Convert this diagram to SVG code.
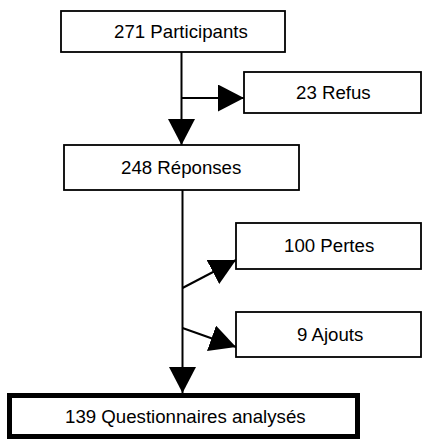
<svg xmlns="http://www.w3.org/2000/svg" width="423" height="440" viewBox="0 0 423 440">
<style>
.box{fill:#fff;stroke:#000;stroke-width:1.8}
.thick{fill:#fff;stroke:#000;stroke-width:5}
.lbl{font-family:"Liberation Sans",Arial,sans-serif;font-size:18.67px;fill:#000}
.ln{stroke:#000;stroke-width:2;fill:none}
</style>
<defs>
<marker id="ah" viewBox="0 0 26 27" markerUnits="userSpaceOnUse" markerWidth="26" markerHeight="27" refX="26" refY="13.5" orient="auto">
<path d="M0,0 L26,13.5 L0,27 Z" fill="#000"/>
</marker>
</defs>
<rect width="423" height="440" fill="#fff"/>
<g id="connectors">
<line class="ln" x1="181.5" y1="52" x2="181.5" y2="145" marker-end="url(#ah)"/>
<line class="ln" x1="181.5" y1="98" x2="244" y2="98" marker-end="url(#ah)"/>
<line class="ln" x1="182.5" y1="190" x2="182.5" y2="393" marker-end="url(#ah)"/>
<line class="ln" x1="182.5" y1="288" x2="236" y2="260" marker-end="url(#ah)"/>
<line class="ln" x1="182.5" y1="328" x2="236" y2="347" marker-end="url(#ah)"/>
</g>
<g id="participants">
<rect class="box" x="61" y="11" width="224" height="41"/>
<text class="lbl" x="114" y="37.5">271 Participants</text>
</g>
<g id="refus">
<rect class="box" x="244" y="72" width="177" height="41"/>
<text class="lbl" x="296" y="98.5">23 Refus</text>
</g>
<g id="reponses">
<rect class="box" x="64" y="145" width="235" height="45"/>
<text class="lbl" x="121" y="174">248 Réponses</text>
</g>
<g id="pertes">
<rect class="box" x="236" y="223" width="185" height="46"/>
<text class="lbl" x="284" y="252">100 Pertes</text>
</g>
<g id="ajouts">
<rect class="box" x="236" y="312" width="185" height="45"/>
<text class="lbl" x="297" y="341">9 Ajouts</text>
</g>
<g id="analyses">
<rect class="thick" x="9.5" y="395.5" width="348" height="41"/>
<text class="lbl" x="65" y="423">139 Questionnaires analysés</text>
</g>
</svg>
